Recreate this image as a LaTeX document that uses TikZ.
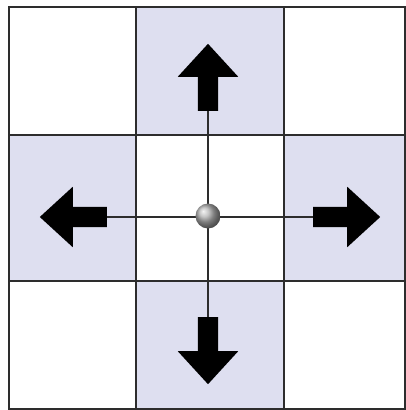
\documentclass[tikz,border=0pt]{standalone}
\usepackage{tikz}
\usetikzlibrary{shapes.arrows,shadings}
\definecolor{cellblue}{RGB}{222,223,240}
\definecolor{gridgray}{RGB}{45,45,45}

\begin{document}
\begin{tikzpicture}[x=1pt, y=-1pt,
  move/.style={single arrow, fill=black, draw=none, inner sep=10pt, minimum height=67pt,
    minimum width=60pt, single arrow head extend=20pt, single arrow tip angle=85,
    single arrow head indent=0pt, anchor=tail},
  cross/.style={gridgray, line width=1.3pt}]
  \useasboundingbox (0,0) rectangle (406,410);
  \fill[white] (0,0) rectangle (406,410);

  % shaded neighbour cells
  \fill[cellblue] (136,7) rectangle (284,135);
  \fill[cellblue] (9,135) rectangle (136,281);
  \fill[cellblue] (284,135) rectangle (405,281);
  \fill[cellblue] (136,281) rectangle (284,409);

  % grid
  \draw[gridgray, line width=1.8pt] (9,7) rectangle (405,409);
  \draw[gridgray, line width=1.8pt] (136,7) -- (136,409) (284,7) -- (284,409);
  \draw[gridgray, line width=1.8pt] (9,135) -- (405,135) (9,281) -- (405,281);

  % moves
  \node[move, shape border rotate=90] (up) at (208,111) {};
  \node[move, shape border rotate=270] (down) at (208,317) {};
  \node[move, shape border rotate=180] (left) at (107,217) {};
  \node[move, shape border rotate=0] (right) at (313,217) {};
  \draw[cross] (up.tail) -- (down.tail);
  \draw[cross] (left.tail) -- (right.tail);

  \node[circle, shading=ball, ball color=gray!60, minimum size=25pt, inner sep=0pt]
    (ball) at (208,216) {};
\end{tikzpicture}
\end{document}
